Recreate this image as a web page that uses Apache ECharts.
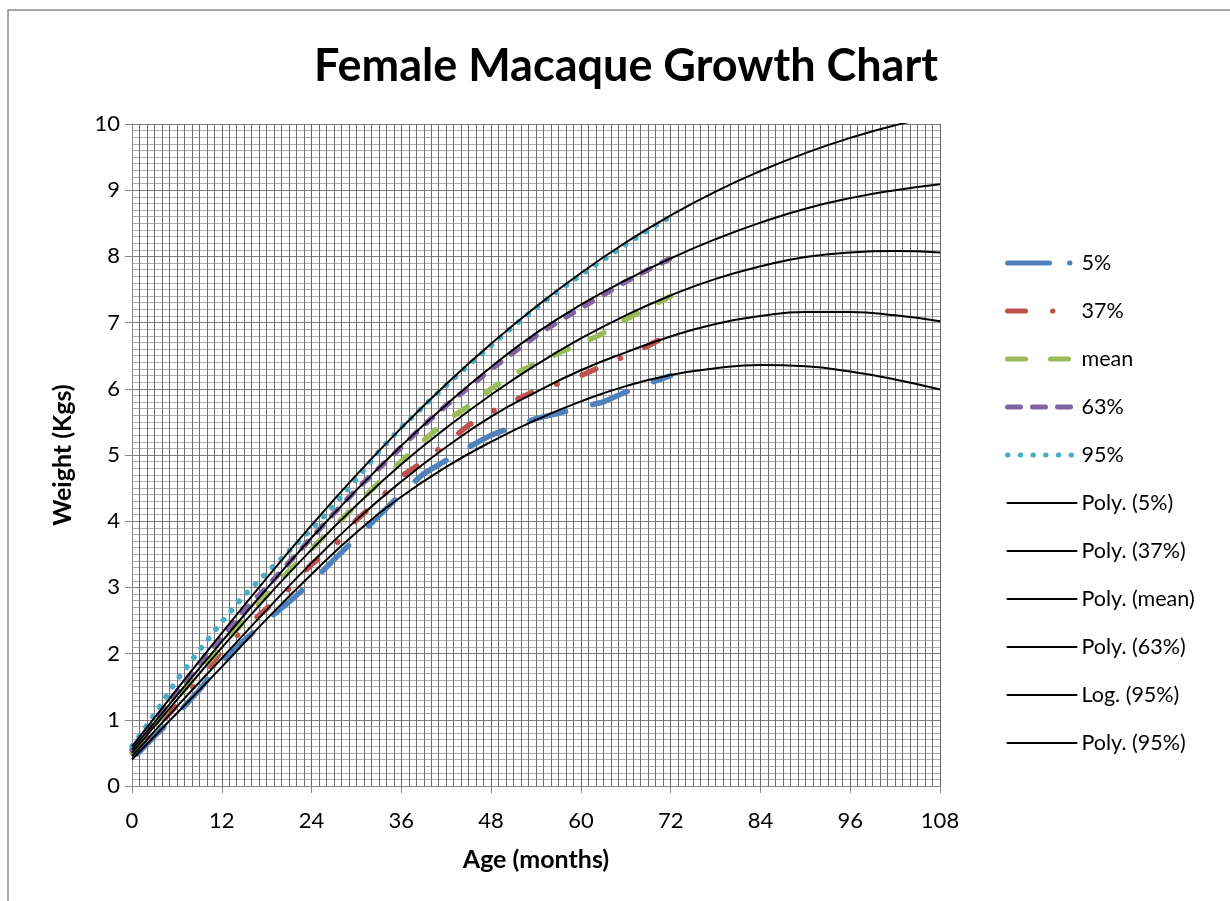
<!DOCTYPE html>
<html>
<head>
<meta charset="utf-8">
<title>Female Macaque Growth Chart</title>
<script src="https://cdn.jsdelivr.net/npm/echarts@6/dist/echarts.min.js"></script>
<style>
  html, body { margin: 0; padding: 0; background: #fff; }
  #chart { width: 1230px; height: 901px; }
</style>
</head>
<body>
<div id="chart"></div>
<script>
const dataMonths = [0, 3, 6, 9, 12, 15, 18, 21, 24, 27, 30, 33, 36, 39, 42, 45, 48, 51, 54, 57, 60, 63, 66, 69, 72];
const p37Months = [0, 3, 6, 9, 12, 15, 18, 21, 24, 27, 30, 33, 36, 39, 42, 45, 48, 51, 54, 57, 60, 63, 66, 69, 70.5];

const p5 = [0.40, 0.75, 1.08, 1.45, 1.88, 2.20, 2.50, 2.78, 3.08, 3.42, 3.75, 4.08, 4.42, 4.72, 4.92, 5.12, 5.30, 5.43, 5.55, 5.63, 5.72, 5.80, 5.95, 6.08, 6.20];
const p37 = [0.45, 0.85, 1.22, 1.60, 2.05, 2.38, 2.68, 2.98, 3.35, 3.62, 4.02, 4.32, 4.68, 4.90, 5.18, 5.45, 5.65, 5.82, 5.97, 6.08, 6.20, 6.35, 6.50, 6.65, 6.74];
const pMean = [0.50, 0.92, 1.33, 1.72, 2.10, 2.50, 2.88, 3.25, 3.58, 3.92, 4.25, 4.58, 4.90, 5.22, 5.52, 5.74, 6.00, 6.22, 6.38, 6.54, 6.68, 6.84, 7.05, 7.22, 7.40];
const p63 = [0.55, 0.98, 1.42, 1.85, 2.25, 2.65, 3.00, 3.38, 3.75, 4.12, 4.48, 4.80, 5.12, 5.45, 5.75, 6.02, 6.30, 6.55, 6.80, 7.02, 7.22, 7.42, 7.62, 7.80, 7.97];
const p95 = [0.60, 1.08, 1.60, 2.05, 2.48, 2.88, 3.22, 3.55, 3.88, 4.24, 4.64, 5.05, 5.42, 5.74, 6.05, 6.36, 6.65, 6.95, 7.22, 7.48, 7.72, 7.95, 8.18, 8.40, 8.60];

// trendlines (read every 6 months)
const trendMonths = [0, 6, 12, 18, 24, 30, 36, 42, 48, 54, 60, 66, 72, 78, 84, 90, 96, 102, 108];
const trend5 = [0.40, 1.10, 1.80, 2.52, 3.20, 3.83, 4.37, 4.82, 5.20, 5.53, 5.81, 6.04, 6.21, 6.31, 6.36, 6.34, 6.26, 6.14, 5.99];
const trend37 = [0.45, 1.20, 1.93, 2.66, 3.37, 4.02, 4.60, 5.12, 5.58, 5.95, 6.28, 6.55, 6.79, 6.98, 7.10, 7.16, 7.16, 7.11, 7.02];
const trendMean = [0.50, 1.30, 2.09, 2.85, 3.57, 4.24, 4.86, 5.41, 5.91, 6.36, 6.76, 7.11, 7.41, 7.66, 7.85, 7.99, 8.06, 8.08, 8.06];
const trend63 = [0.55, 1.37, 2.18, 2.98, 3.75, 4.47, 5.14, 5.76, 6.33, 6.84, 7.27, 7.64, 7.97, 8.26, 8.51, 8.72, 8.88, 9.00, 9.09];
const trend95 = [0.60, 1.46, 2.31, 3.14, 3.94, 4.70, 5.41, 6.07, 6.68, 7.24, 7.75, 8.21, 8.62, 8.98, 9.29, 9.56, 9.79, 9.98, 10.13];

const xTicks = [0, 12, 24, 36, 48, 60, 72, 84, 96, 108];

const FONT = 'Lato, "Open Sans", sans-serif';

function pairs(xs, ys) {
  return xs.map((x, i) => [x, ys[i]]);
}

// 数据线
function dataSeries(name, xs, ys, color, dash, offset) {
  return {
    name: name,
    type: 'line',
    data: pairs(xs, ys),
    symbol: 'none',
    smooth: false,
    lineStyle: { color: color, width: 5.5, type: dash, dashOffset: offset || 0, cap: 'round', join: 'round' },
    itemStyle: { color: color },
    z: 2
  };
}

// 趋势线
function trendSeries(name, xs, ys) {
  return {
    name: name,
    type: 'line',
    data: pairs(xs, ys),
    symbol: 'none',
    smooth: 0.5,
    lineStyle: { color: '#000', width: 2 },
    itemStyle: { color: '#000' },
    z: 3
  };
}

// 图例线型
function legendItem(name, dash, width) {
  return { name: name, lineStyle: { type: dash, width: width, cap: 'round', dashOffset: 0 } };
}

const chart = echarts.init(document.getElementById('chart'));

const option = {
  backgroundColor: '#fff',
  animation: false,
  title: {
    text: 'Female Macaque Growth Chart',
    left: 626,
    top: 44,
    textAlign: 'center',
    padding: 0,
    textStyle: { fontFamily: FONT, fontWeight: 'bold', fontSize: 45, color: '#000' }
  },
  graphic: [{
    type: 'rect',
    shape: { x: 8, y: 10, width: 1400, height: 1000 },
    style: { fill: 'none', stroke: '#8c8c8c', lineWidth: 1.5 },
    silent: true
  }],
  legend: {
    orient: 'vertical',
    left: 1005,
    top: 252,
    padding: 0,
    itemWidth: 69,
    itemHeight: 22,
    itemGap: 26,
    itemStyle: { opacity: 0 },
    textStyle: { fontFamily: FONT, fontSize: 21.5, color: '#000', lineHeight: 22 },
    data: [
      legendItem('5%', [42, 20, 0.5, 20], 5),
      legendItem('37%', [18, 27, 0.5, 24, 0.5, 30], 5),
      legendItem('mean', [18, 25], 5),
      legendItem('63%', [13, 12], 5),
      legendItem('95%', [0.5, 12.2], 5),
      legendItem('Poly. (5%)', 'solid', 2),
      legendItem('Poly. (37%)', 'solid', 2),
      legendItem('Poly. (mean)', 'solid', 2),
      legendItem('Poly. (63%)', 'solid', 2),
      legendItem('Log. (95%)', 'solid', 2),
      legendItem('Poly. (95%)', 'solid', 2)
    ]
  },
  grid: { left: 132, top: 124, width: 808, height: 662 },
  xAxis: {
    type: 'value',
    min: 0,
    max: 108,
    interval: 12,
    name: 'Age (months)',
    nameLocation: 'middle',
    nameGap: 61,
    nameTextStyle: { fontFamily: FONT, fontWeight: 'bold', fontSize: 25, color: '#000' },
    axisLine: { show: true, lineStyle: { color: '#868686', width: 1 } },
    axisTick: { show: true, length: 7, lineStyle: { color: '#868686' } },
    axisLabel: {
      margin: 24,
      fontFamily: FONT, fontSize: 22, color: '#000',
      customValues: xTicks
    },
    splitLine: { show: true, lineStyle: { color: '#666', width: 1 } },
    minorTick: { show: false, splitNumber: 12 },
    minorSplitLine: { show: true, lineStyle: { color: '#6e6e6e', width: 1 } }
  },
  yAxis: {
    type: 'value',
    min: 0,
    max: 10,
    interval: 1,
    name: 'Weight (Kgs)',
    nameLocation: 'middle',
    nameGap: 57,
    nameRotate: 90,
    nameTextStyle: { fontFamily: FONT, fontWeight: 'bold', fontSize: 25, color: '#000' },
    axisLine: { show: true, lineStyle: { color: '#868686', width: 1 } },
    axisTick: { show: true, length: 7, lineStyle: { color: '#868686' } },
    axisLabel: { margin: 12, fontFamily: FONT, fontSize: 22, color: '#000' },
    splitLine: { show: true, lineStyle: { color: '#808080', width: 1 } },
    minorTick: { show: false, splitNumber: 10 },
    minorSplitLine: { show: true, lineStyle: { color: '#afafaf', width: 1 } }
  },
  series: [
    dataSeries('5%', dataMonths, p5, '#4F81BD', [37, 28], -8),
    dataSeries('37%', p37Months, p37, '#C0504D', [15, 26.5, 0.5, 26.5], 18),
    dataSeries('mean', dataMonths, pMean, '#9BBB59', [15, 24]),
    dataSeries('63%', dataMonths, p63, '#8064A2', [8.5, 13.5]),
    dataSeries('95%', dataMonths, p95, '#4BACC6', [0.5, 11.5]),
    trendSeries('Poly. (5%)', trendMonths, trend5),
    trendSeries('Poly. (37%)', trendMonths, trend37),
    trendSeries('Poly. (mean)', trendMonths, trendMean),
    trendSeries('Poly. (63%)', trendMonths, trend63),
    trendSeries('Log. (95%)', [], []),
    trendSeries('Poly. (95%)', trendMonths, trend95)
  ]
};

chart.setOption(option);
</script>
</body>
</html>
